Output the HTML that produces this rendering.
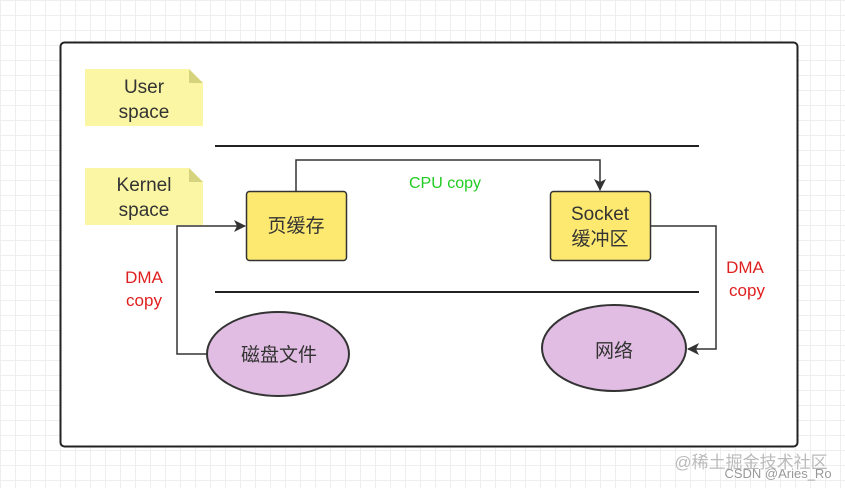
<!DOCTYPE html>
<html><head><meta charset="utf-8"><style>
body{margin:0;width:845px;height:488px;overflow:hidden;background:#fff;
background-image:linear-gradient(#eee 1px,transparent 1px),linear-gradient(90deg,#eee 1px,transparent 1px);background-size:15px 15px;}
</style></head><body>
<svg width="845" height="488" style="position:absolute;left:0;top:0" font-family="Liberation Sans, Noto Sans CJK SC, sans-serif">
<defs><marker id="a" markerWidth="12" markerHeight="12" refX="11" refY="6" orient="auto" markerUnits="userSpaceOnUse"><path d="M0,0 L12,6 L0,12 L3,6 z" fill="#333"/></marker></defs>
<rect x="60.5" y="42.5" width="737" height="404" rx="4" fill="#fff" stroke="#222" stroke-width="2"/>
<path d="M85,69 H189 L203,83 V126 H85 Z" fill="#fbf6a3"/><path d="M189,69 L203,83 H189 Z" fill="#d6d37e"/>
<path d="M85,168 H189 L203,182 V225 H85 Z" fill="#fbf6a3"/><path d="M189,168 L203,182 H189 Z" fill="#d6d37e"/>
<g font-size="19" fill="#333" text-anchor="middle"><text x="144" y="93">User</text><text x="144" y="118">space</text>
<text x="144" y="191">Kernel</text><text x="144" y="216">space</text></g>
<line x1="215" y1="146" x2="699" y2="146" stroke="#222" stroke-width="2"/>
<line x1="215" y1="292" x2="699" y2="292" stroke="#222" stroke-width="2"/>
<rect x="246.5" y="191.5" width="100" height="69" rx="3" fill="#fde96f" stroke="#333" stroke-width="1.5"/>
<rect x="550.5" y="191.5" width="100" height="69" rx="3" fill="#fde96f" stroke="#333" stroke-width="1.5"/>
<g font-size="19" fill="#333" text-anchor="middle"><text x="296" y="232">页缓存</text>
<text x="600" y="220">Socket</text><text x="600" y="245">缓冲区</text></g>
<ellipse cx="278" cy="354" rx="71" ry="42" fill="#e1bde3" stroke="#333" stroke-width="2"/>
<ellipse cx="614" cy="348" rx="72" ry="43" fill="#e1bde3" stroke="#333" stroke-width="2"/>
<g font-size="19" fill="#333" text-anchor="middle"><text x="279" y="361">磁盘文件</text><text x="614" y="357">网络</text></g>
<g fill="none" stroke="#333" stroke-width="1.5">
<path d="M296,191 V160 H600 V190" marker-end="url(#a)"/>
<path d="M208,354 H177 V226 H245" marker-end="url(#a)"/>
<path d="M650,226 H716 V349 H688" marker-end="url(#a)"/></g>
<text x="445" y="188" font-size="16" fill="#22cc22" text-anchor="middle">CPU copy</text>
<g font-size="17" fill="#e02020" text-anchor="middle"><text x="144" y="283">DMA</text><text x="144" y="306">copy</text>
<text x="745" y="273">DMA</text><text x="747" y="296">copy</text></g>
<text x="751" y="468" font-size="17" fill="#bbb" text-anchor="middle">@稀土掘金技术社区</text>
<text x="778" y="478" font-size="13" fill="#999" text-anchor="middle">CSDN @Aries_Ro</text>
</svg></body></html>
